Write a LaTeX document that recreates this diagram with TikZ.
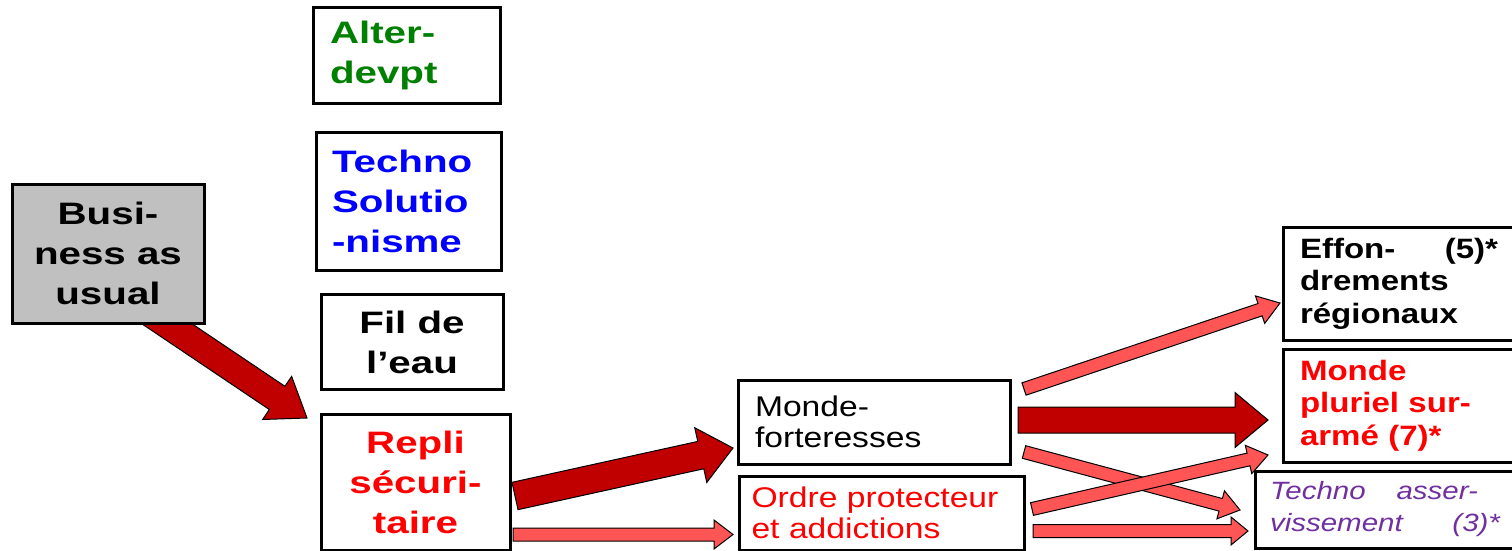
\documentclass[tikz,border=0pt]{standalone}
\usepackage{fontspec}
\setmainfont{Liberation Sans}[FakeStretch=1.18]
\newfontfamily\widefont{Liberation Sans}[FakeStretch=1.3]
\usetikzlibrary{calc}
\pgfdeclarelayer{bg}
\pgfsetlayers{bg,main}
\definecolor{busgray}{RGB}{192,192,192}
\definecolor{darkred}{RGB}{192,0,0}
\definecolor{lightred}{RGB}{255,85,85}
\definecolor{altgreen}{RGB}{0,128,0}
\definecolor{solblue}{RGB}{0,0,255}
\definecolor{asspurple}{RGB}{112,48,160}
\newcommand\bigbold{\widefont\bfseries\fontsize{31}{40}\selectfont}
\newcommand\midplain{\fontsize{28.5}{31}\selectfont}
\newcommand\smallbold{\bfseries\fontsize{28}{32.5}\selectfont}
\newcommand\smallital{\itshape\fontsize{25}{32}\selectfont}
\tikzstyle{scen} = [rectangle, draw=black, line width=3pt, fill=white, inner sep=0pt, outer sep=0pt]
\tikzstyle{heavyarrow} = [draw=black, line width=1pt, fill=darkred]
\tikzstyle{lightarrow} = [draw=black, line width=1pt, fill=lightred]
% style, from, to, half shaft, half head, head length
\newcommand\blockarrow[6]{%
  \path (#2) coordinate (ba-s) (#3) coordinate (ba-e);
  \path ($(ba-e)!#6!(ba-s)$) coordinate (ba-h);
  \draw[#1] ($(ba-s)!#4!90:(ba-e)$) -- ($(ba-h)!#4!90:(ba-e)$) -- ($(ba-h)!#5!90:(ba-e)$)
    -- (ba-e) -- ($(ba-h)!#5!-90:(ba-e)$) -- ($(ba-h)!#4!-90:(ba-e)$) -- ($(ba-s)!#4!-90:(ba-e)$) -- cycle;
}
\begin{document}
\begin{tikzpicture}[x=1pt, y=-1pt, node distance=141pt]
\useasboundingbox (0,0) rectangle (1512,551);
\clip (0,0) rectangle (1512,551);
% scenarios
\node (busi) [scen, fill=busgray, minimum width=192pt, minimum height=139pt, align=center, font=\bigbold] at (108,253.5) {Busi-\\ness as\\usual};
\node (alter) [scen, text width=153pt, inner xsep=17pt, minimum height=95pt, align=left, font=\bigbold, text=altgreen] at (406.5,55.5) {Alter-\\devpt};
\node (techno) [scen, text width=153pt, inner xsep=16pt, minimum height=138pt, align=left, font=\bigbold, text=solblue, below of=alter, xshift=2pt, yshift=-4.5pt] {Techno\\Solutio\\-nisme};
\node (fil) [scen, minimum width=182pt, minimum height=95pt, align=center, font=\bigbold, below of=techno, xshift=3.5pt] {Fil de\\l’eau};
\node (repli) [scen, minimum width=189pt, minimum height=136pt, align=center, font=\bigbold, text=red, below of=fil, xshift=3.5pt, yshift=1pt] {Repli\\sécuri-\\taire};
\node (mf) [scen, text width=238pt, inner xsep=17pt, minimum height=84pt, align=left, font=\midplain] at (874,422) {Monde-\\forteresses};
\node (ordre) [scen, text width=260pt, inner xsep=12.5pt, minimum height=74pt, align=left, font=\midplain, text=red, below of=mf, node distance=91pt, xshift=7.5pt] {Ordre protecteur\\et addictions};
\node (effon) [scen, anchor=west, text width=198pt, inner xsep=17pt, minimum height=113pt, align=left, font=\smallbold] at (1283,283.5) {Effon-\hfill(5)*\\drements\\régionaux};
\node (pluriel) [scen, anchor=west, text width=198pt, inner xsep=17pt, minimum height=113pt, align=left, font=\smallbold, text=red] at (1283,405.5) {Monde\\pluriel sur-\\armé (7)*};
\node (tasser) [scen, anchor=west, text width=230pt, inner xsep=15pt, minimum height=77pt, align=left, font=\smallital, text=asspurple] at (1255,509.5) {Techno\hfill asser-\rule{22pt}{0pt}\\vissement\hfill(3)*};
% arrows
\begin{pgfonlayer}{bg}
\blockarrow{heavyarrow}{$(busi.south)+(28,-20)$}{$(repli.north west)+(-14,4)$}{14pt}{26pt}{36pt}
\end{pgfonlayer}
\blockarrow{lightarrow}{$(repli.east)+(3,52.5)$}{$(ordre.west)+(-6,21.5)$}{6.5pt}{14.5pt}{19pt}
\blockarrow{heavyarrow}{$(repli.east)+(5,14)$}{$(mf.west)+(-5,26)$}{14pt}{28pt}{33pt}
\blockarrow{lightarrow}{$(mf.east)+(14,-33)$}{$(effon.west)+(-3,19.5)$}{6.5pt}{14.5pt}{21pt}
\blockarrow{heavyarrow}{$(mf.east)+(8,-2)$}{$(pluriel.west)+(-15,14.5)$}{13pt}{27.5pt}{33pt}
\blockarrow{lightarrow}{$(mf.east)+(14,30)$}{$(tasser.west)+(-15,0.5)$}{6.5pt}{14.5pt}{20pt}
\blockarrow{lightarrow}{$(ordre.east)+(9,18)$}{$(tasser.west)+(-7,21.5)$}{6.5pt}{14pt}{17pt}
\blockarrow{lightarrow}{$(ordre.east)+(8,-4)$}{$(pluriel.south west)+(-15,-7)$}{6.5pt}{14.5pt}{20pt}
\end{tikzpicture}
\end{document}
